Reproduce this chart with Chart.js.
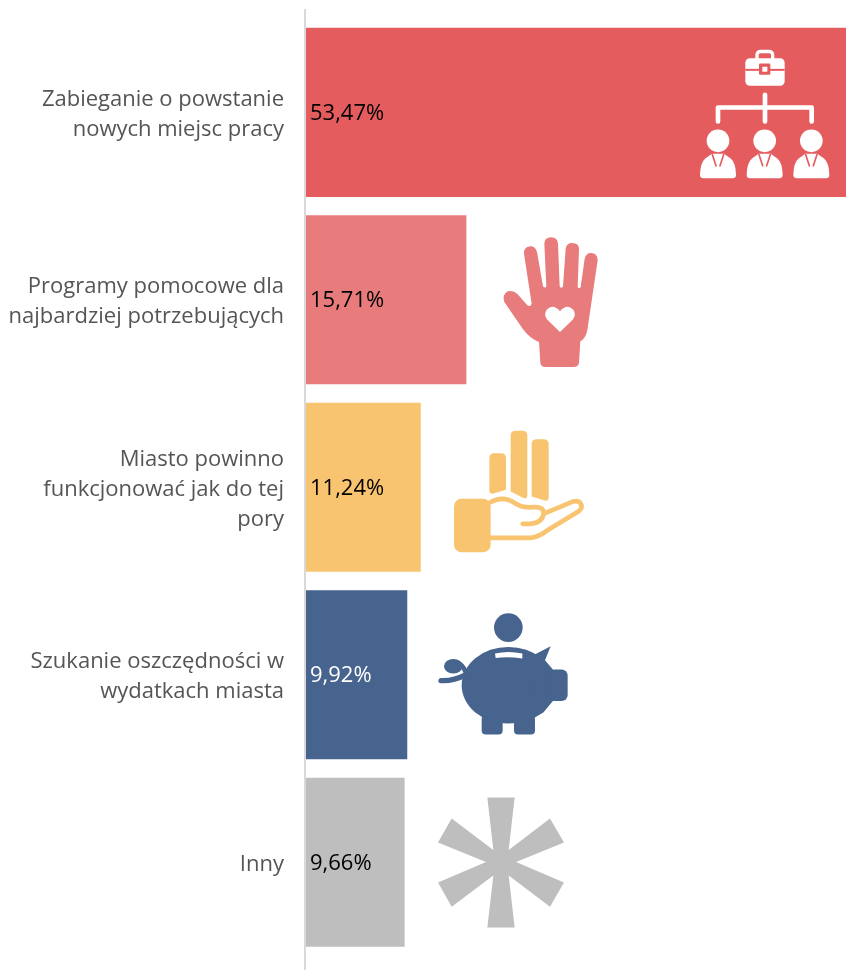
<!DOCTYPE html>
<html lang="pl"><head><meta charset="utf-8">
<style>html,body{margin:0;padding:0;background:#fff}canvas{display:block}</style>
<script src="https://cdn.jsdelivr.net/npm/chart.js@4"></script></head>
<body><canvas id="c" width="846" height="970"></canvas>
<script>
const categories = [
  ["Zabieganie o powstanie","nowych miejsc pracy"],
  ["Programy pomocowe dla","najbardziej potrzebujących"],
  ["Miasto powinno","funkcjonować jak do tej","pory"],
  ["Szukanie oszczędności w","wydatkach miasta"],
  ["Inny"]
];
const values = [53.47, 15.71, 11.24, 9.92, 9.66];
const valueLabels = ["53,47%","15,71%","11,24%","9,92%","9,66%"];
const barColors = ["#E45C5E","#E87B7C","#F9C470","#47648E","#BEBEBE"];
const labelColors = ["#000","#000","#000","#fff","#000"];

const P = s => new Path2D(s);
function fill(c,col,p,rule){c.fillStyle=col;c.fill(p,rule||'nonzero');}
function stroke(c,col,w,p){c.strokeStyle=col;c.lineWidth=w;c.lineCap='round';c.lineJoin='round';c.stroke(p);}
function rr(x,y,w,h,r){const p=new Path2D();p.roundRect(x,y,w,h,r);return p;}
function circ(x,y,r){const p=new Path2D();p.arc(x,y,r,0,Math.PI*2);return p;}

const icons = [
 { x:a=>a.right-166, dy:-82.5, draw(c,col,bg){
    stroke(c,col,10,rr(231,65,47,34,10));
    fill(c,col,rr(196,85,118,83,14));
    c.fillStyle=bg;c.fillRect(196,117,118,6);
    fill(c,bg,rr(237,101,34,34,4));
    fill(c,col,rr(247,111,15,15,1));
    stroke(c,col,14,P("M255,195V275M114,275V233H395V275"));
    [114,254,394].forEach(x=>{
      fill(c,col,circ(x,333,34));
      const b=new Path2D(`M${x-46},445Q${x-54},445 ${x-54},435Q${x-53},398 ${x-38},386L${x-18},372H${x+18}L${x+38},386Q${x+53},398 ${x+54},435Q${x+54},445 ${x+46},445Z`);
      fill(c,col,b);
      stroke(c,bg,5,P(`M${x-17},374L${x-6},408M${x+17},374L${x+6},408`));
    });
 }},
 { x:a=>a.left+184, dy:-74.5, draw(c,col,bg){
    fill(c,col,P("M147,350L151,412Q153,425 166,425L250,425Q265,425 267,412L271,348Q287,340 292,315L323,105Q323,84 303,83Q288,83 284,100L272,185Q268,192 263,185L267,72Q267,53 247,53Q229,53 227,70L219,183Q214,192 209,183L204,55Q202,36 183,36Q164,36 163,55L169,183Q165,190 159,183L141,80Q136,62 120,63Q101,65 102,85L125,235Q122,245 112,240L83,207Q70,194 53,198Q36,208 43,230L98,310Q118,338 147,350Z"));
    fill(c,bg,P("M210,320L172,283Q160,268 170,253Q190,233 210,258Q230,233 250,253Q260,268 248,283Z"));
 }},
 { x:a=>a.left+134, dy:-67.5, draw(c,col){
    fill(c,col,P("M148,115Q148,100 163,100H183Q198,100 198,115V210L158,222Q148,222 148,212Z"));
    fill(c,col,P("M212,48Q212,33 227,33H247Q262,33 262,48V228Q262,238 252,235L212,215Z"));
    fill(c,col,P("M275,73Q275,58 290,58H311Q326,58 326,73V233Q326,243 316,243L275,230Z"));
    fill(c,col,rr(42,237,110,160,22));
    stroke(c,col,14,P("M150,248Q190,225 225,250Q250,265 280,262Q315,260 310,285Q305,310 270,312L248,312M310,282L400,245Q420,240 425,258Q425,268 415,275L320,333Q295,352 270,354L150,354"));
 }},
 { x:a=>a.left+124, dy:-69.5, draw(c,col,bg){
    fill(c,col,circ(235,67,43));
    const b=new Path2D();b.ellipse(235,240,140,115,0,0,Math.PI*2);fill(c,col,b);
    fill(c,col,P("M310,150L362,123L345,165L375,200L375,280L340,322L300,345Z"));
    fill(c,col,rr(355,193,58,94,18));
    fill(c,col,rr(155,330,63,58,12));
    fill(c,col,rr(252,330,63,58,12));
    fill(c,bg,P("M195,145Q235,135 277,145L277,160Q235,153 197,158Z"));
    const curl=new Path2D();curl.ellipse(70,183,28,22,0,0,Math.PI*2);fill(c,col,curl);
    stroke(c,col,14,P("M82,172Q98,178 106,198"));
    stroke(c,col,16,P("M108,208Q70,228 33,226"));
 }},
 { x:a=>a.left+124, dy:-71.5, draw(c,col){
    fill(c,col,P("M172,20L254,20L236,178L360,83L402,155L258,214L402,275L360,348L236,254L254,410L172,410L190,254L65,348L24,275L168,214L24,155L65,83L190,178Z"));
 }}
];

const decor = {
  id:'decor',
  afterDatasetsDraw(chart){
    const {ctx,chartArea:a,scales:{y}} = chart;
    const meta = chart.getDatasetMeta(0);
    ctx.save();
    ctx.fillStyle = '#D9D9D9';
    ctx.fillRect(a.left-2, 9, 2, chart.height-9);
    ctx.font = '22px "Open Sans"';
    ctx.textAlign = 'left';
    ctx.textBaseline = 'middle';
    valueLabels.forEach((t,i)=>{
      ctx.fillStyle = labelColors[i];
      ctx.fillText(t, meta.data[i].base + 4, meta.data[i].y + 1);
    });
    icons.forEach((ic,i)=>{
      ctx.save();
      ctx.translate(ic.x(a), y.getPixelForValue(i)+ic.dy);
      ctx.scale(1/3,1/3);
      ic.draw(ctx, i===0 ? '#fff' : barColors[i], i===0 ? barColors[0] : '#fff');
      ctx.restore();
    });
    ctx.restore();
  }
};

new Chart(document.getElementById('c'),{
  type:'bar',
  data:{labels:categories,datasets:[{data:values,backgroundColor:barColors,borderWidth:0,
    categoryPercentage:1,barPercentage:0.902}]},
  plugins:[decor],
  options:{
    indexAxis:'y',responsive:false,animation:false,
    layout:{padding:{top:18.6,bottom:14,left:0,right:0}},
    plugins:{legend:{display:false},tooltip:{enabled:false}},
    scales:{
      x:{display:false,min:0,max:52.9},
      y:{
        afterFit(s){s.width=306;s.paddingTop=0;s.paddingBottom=0;},
        afterUpdate(s){
          if(s._shifted) return; s._shifted=true;
          const orig=s.getLabelItems.bind(s);
          s.getLabelItems=(area)=>orig(area).map(it=>{
            const t=it.options.translation;
            return {...it,options:{...it.options,translation:[t[0],t[1]+2]}};
          });
        },
        grid:{display:false,drawTicks:false},
        border:{display:false},
        ticks:{color:'#555555',padding:22,autoSkip:false,font:{family:'"Open Sans"',size:22,lineHeight:1.364}}
      }
    }
  }
});
</script></body></html>
